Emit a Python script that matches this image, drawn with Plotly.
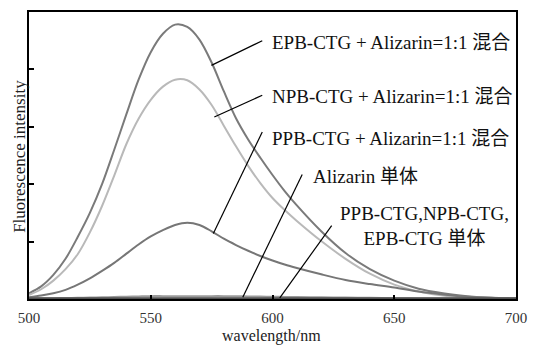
import plotly.graph_objects as go

# Emission spectra (arbitrary intensity units)
wavelength = [500, 505, 510, 515, 520, 525, 530, 535, 540, 545, 550, 555, 560, 565, 570,
              575, 580, 585, 590, 595, 600, 605, 610, 620, 630, 640, 650, 660, 670, 680, 690, 700]

epb_mix = [0.10, 0.22, 0.42, 0.70, 1.08, 1.50, 2.00, 2.60, 3.22, 3.82, 4.30, 4.62, 4.78, 4.74, 4.52,
           4.12, 3.62, 3.15, 2.78, 2.46, 2.16, 1.88, 1.63, 1.18, 0.80, 0.52, 0.32, 0.18, 0.10, 0.05, 0.02, 0.01]
npb_mix = [0.07, 0.17, 0.32, 0.52, 0.78, 1.16, 1.62, 2.15, 2.70, 3.14, 3.47, 3.70, 3.82, 3.81, 3.65,
           3.38, 3.02, 2.66, 2.32, 2.02, 1.76, 1.55, 1.36, 1.01, 0.70, 0.44, 0.25, 0.13, 0.06, 0.03, 0.015, 0.01]
ppb_mix = [0.03, 0.06, 0.10, 0.16, 0.25, 0.36, 0.49, 0.63, 0.79, 0.95, 1.09, 1.20, 1.29, 1.33, 1.29,
           1.18, 1.05, 0.94, 0.84, 0.75, 0.67, 0.60, 0.54, 0.43, 0.33, 0.26, 0.20, 0.13, 0.08, 0.04, 0.02, 0.01]
alizarin = [0.01, 0.012, 0.015, 0.018, 0.02, 0.025, 0.03, 0.035, 0.04, 0.045, 0.05, 0.05, 0.05, 0.05, 0.05,
            0.05, 0.05, 0.048, 0.045, 0.042, 0.04, 0.037, 0.034, 0.03, 0.025, 0.02, 0.015, 0.01, 0.008, 0.006, 0.005, 0.005]
ppb_only = [0.01] * len(wavelength)
npb_only = [0.008] * len(wavelength)
epb_only = [0.006] * len(wavelength)

series = [
    ("EPB-CTG + Alizarin", epb_mix, "#7a7a7a"),
    ("NPB-CTG + Alizarin", npb_mix, "#b9b9b9"),
    ("PPB-CTG + Alizarin", ppb_mix, "#767676"),
    ("Alizarin", alizarin, "#9a9a9a"),
    ("PPB-CTG", ppb_only, "#555555"),
    ("NPB-CTG", npb_only, "#5e5e5e"),
    ("EPB-CTG", epb_only, "#4f4f4f"),
]

labels = [
    "EPB-CTG + Alizarin=1:1 混合",
    "NPB-CTG + Alizarin=1:1 混合",
    "PPB-CTG + Alizarin=1:1 混合",
    "Alizarin 単体",
    "PPB-CTG,NPB-CTG,<br>EPB-CTG 単体",
]
# label anchor (wavelength, intensity) and leader line (x0, y0, x1, y1)
label_pos = [(599, 4.47), (599, 3.52), (599, 2.79), (616, 2.14), (662.4, 1.27)]
leaders = [
    (574.9, 4.07, 595.8, 4.50),
    (576.1, 3.17, 595.8, 3.55),
    (575.7, 1.14, 595.8, 2.91),
    (587.8, 0.03, 612.2, 2.17),
    (603.0, 0.02, 624.3, 1.28),
]

FONT = "Liberation Serif, Noto Sans CJK JP, serif"

fig = go.Figure()
for name, vals, col in series:
    fig.add_trace(go.Scatter(x=wavelength, y=vals, name=name, mode="lines",
                             line=dict(color=col, width=2, shape="spline", smoothing=0.9)))

for (x0, y0, x1, y1) in leaders:
    fig.add_shape(type="line", x0=x0, y0=y0, x1=x1, y1=y1, xref="x", yref="y",
                  line=dict(color="black", width=1.2))

for i, (txt, (lx, ly)) in enumerate(zip(labels, label_pos)):
    fig.add_annotation(x=lx, y=ly, xref="x", yref="y", text=txt, showarrow=False,
                       xanchor="center" if i == 4 else "left", yanchor="middle",
                       align="center", font=dict(family=FONT, size=19, color="#111"))

# axis titles
fig.add_annotation(x=-0.021, y=0.498, xref="paper", yref="paper", text="Fluorescence intensity",
                   textangle=-90, showarrow=False, xanchor="center", yanchor="middle",
                   font=dict(family=FONT, size=17, color="#222"))
fig.add_annotation(x=0.498, y=-0.128, xref="paper", yref="paper", text="wavelength/nm",
                   showarrow=False, xanchor="center", yanchor="middle",
                   font=dict(family=FONT, size=16, color="#222"))

fig.update_xaxes(range=[500, 700], tickvals=[500, 550, 600, 650, 700],
                 ticks="inside", ticklen=4, tickwidth=1.5, tickcolor="black",
                 ticklabelstandoff=4,
                 showline=True, linecolor="black", linewidth=2, mirror=True,
                 showgrid=False, zeroline=False,
                 tickfont=dict(family=FONT, size=15, color="#333"))
fig.update_yaxes(range=[0, 5], tickvals=[1, 2, 3, 4], showticklabels=False,
                 ticks="inside", ticklen=5, tickwidth=1.5, tickcolor="black",
                 showline=True, linecolor="black", linewidth=2, mirror=True,
                 showgrid=False, zeroline=False)

fig.update_layout(width=537, height=346, margin=dict(l=29, r=11, t=10, b=47),
                  paper_bgcolor="white", plot_bgcolor="white", showlegend=False)

fig.write_html("out.html")
